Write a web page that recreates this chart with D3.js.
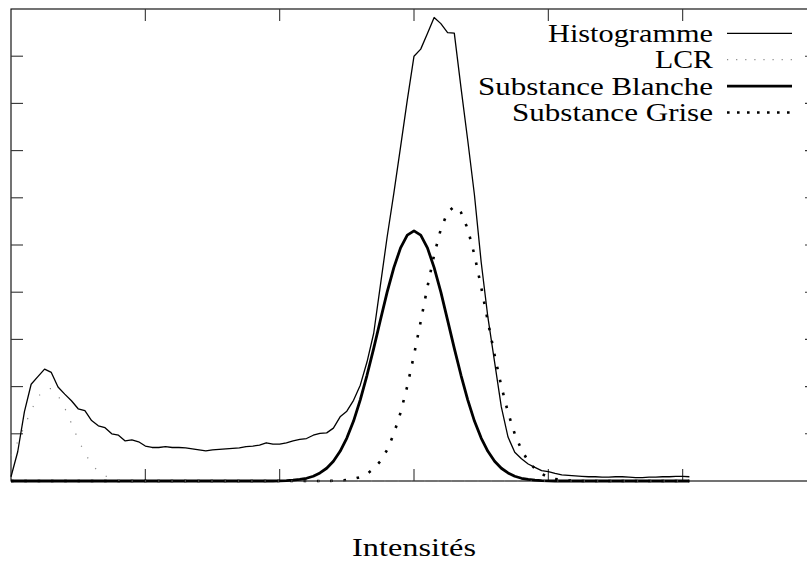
<!DOCTYPE html>
<html>
<head>
<meta charset="utf-8">
<script src="https://cdn.jsdelivr.net/npm/d3@7"></script>
<style>
html,body{margin:0;padding:0;background:#fff;}
svg{display:block;}
</style>
</head>
<body>
<svg id="chart" width="807" height="561"></svg>
<script>
// ---- data ----
const xTicks = [0, 20, 40, 60, 80, 100, 120];
const yTicks = [0, 1, 2, 3, 4, 5, 6, 7, 8, 9, 10];
const xLabel = "Intensités";
const seriesNames = ["Histogramme", "LCR", "Substance Blanche", "Substance Grise"];

const histogramme = [0.09,0.62,1.47,2.05,2.21,2.37,2.30,1.99,1.84,1.70,
  1.53,1.49,1.28,1.17,1.13,1.00,0.97,0.85,0.87,0.83,
  0.74,0.71,0.71,0.73,0.71,0.71,0.70,0.68,0.66,0.64,
  0.66,0.67,0.68,0.69,0.70,0.73,0.74,0.76,0.81,0.78,
  0.78,0.81,0.85,0.88,0.90,0.97,1.01,1.02,1.12,1.36,
  1.48,1.71,2.03,2.52,3.13,4.15,5.17,6.10,7.08,8.07,
  9.00,9.15,9.48,9.82,9.69,9.50,9.49,8.33,7.22,6.06,
  4.64,3.47,2.52,1.57,0.93,0.61,0.47,0.36,0.29,0.22,
  0.20,0.16,0.13,0.12,0.11,0.10,0.09,0.09,0.08,0.08,
  0.09,0.09,0.08,0.07,0.07,0.08,0.08,0.09,0.09,0.10,
  0.10,0.09];

const lcr = [0.54,0.83,1.16,1.49,1.78,1.94,1.96,1.81,1.55,1.22,
  0.88,0.59,0.36,0.20,0.11,0.05,0.02,0.01,0,0,
  0,0,0,0,0,0,0,0,0,0,0,0,0,0,0,0,0,0,0,0,
  0,0,0,0,0,0,0,0,0,0,0,0,0,0,0,0,0,0,0,0,
  0,0,0,0,0,0,0,0,0,0,0,0,0,0,0,0,0,0,0,0,
  0,0,0,0,0,0,0,0,0,0,0,0,0,0,0,0,0,0,0,0,
  0,0];

const blanche = [0,0,0,0,0,0,0,0,0,0,0,0,0,0,0,0,0,0,0,0,
  0,0,0,0,0,0,0,0,0,0,0,0,0,0,0,0,0,0,0,0,
  0.004,0.009,0.018,0.033,0.058,0.10,0.17,0.27,0.42,0.63,
  0.91,1.27,1.72,2.24,2.81,3.41,4.00,4.52,4.94,5.21,
  5.30,5.21,4.94,4.52,4.00,3.41,2.81,2.24,1.72,1.27,
  0.91,0.63,0.42,0.27,0.17,0.10,0.058,0.033,0.018,0.009,
  0.004,0,0,0,0,0,0,0,0,0,0,0,0,0,0,0,0,0,0,0,
  0,0];

const grise = [0,0,0,0,0,0,0,0,0,0,0,0,0,0,0,0,0,0,0,0,
  0,0,0,0,0,0,0,0,0,0,0,0,0,0,0,0,0,0,0,0,
  0,0,0,0,0,0,0,0,0.005,0.011,
  0.022,0.044,0.083,0.15,0.26,0.42,0.66,1.00,1.45,2.01,
  2.67,3.38,4.11,4.79,5.34,5.69,5.82,5.69,5.34,4.79,
  4.11,3.38,2.67,2.01,1.45,1.00,0.66,0.42,0.26,0.15,
  0.083,0.044,0.022,0.011,0.005,0,0,0,0,0,0,0,0,0,0,0,0,0,0,0,
  0,0];

// ---- layout ----
const FONT = "'Liberation Serif', LiberationSerif, 'DejaVu Serif', DejaVuSerif, 'Noto Serif', FreeSerif, Tinos, Times, 'Times New Roman', serif";
const svg = d3.select("#chart");
const L = 11, R = 817, T = 9, B = 481;
const x = d3.scaleLinear().domain([0, 120]).range([L, R]);
const y = d3.scaleLinear().domain([0, 10]).range([B, T]);

// frame
svg.append("rect").attr("x", L).attr("y", T).attr("width", R - L).attr("height", B - T)
  .attr("fill", "none").attr("stroke", "#000").attr("stroke-width", 1.1);

// ticks (inward, no labels)
const tickLen = 12;
const inner = (arr) => arr.slice(1, -1);
const g = svg.append("g").attr("stroke", "#333").attr("stroke-width", 1.1);
inner(xTicks).forEach(t => {
  g.append("line").attr("x1", x(t)).attr("x2", x(t)).attr("y1", T).attr("y2", T + tickLen);
  g.append("line").attr("x1", x(t)).attr("x2", x(t)).attr("y1", B).attr("y2", B - tickLen);
});
inner(yTicks).forEach(t => {
  g.append("line").attr("x1", L).attr("x2", L + tickLen).attr("y1", y(t)).attr("y2", y(t));
  g.append("line").attr("x1", R).attr("x2", R - tickLen).attr("y1", y(t)).attr("y2", y(t));
});

const line = d3.line().x((d, i) => x(i)).y(d => y(d));

const styles = [
  {data: histogramme, stroke: "#000", width: 1.3, dash: null, legendDash: null},
  {data: lcr, stroke: "#8a8a8a", width: 1.2, dash: "1.2,12.1", legendDash: "1.2,7.9"},
  {data: blanche, stroke: "#000", width: 2.8, dash: null, legendDash: null},
  {data: grise, stroke: "#000", width: 2.6, dash: "2.6,10.7", legendDash: "2.6,7.4"}
];

// draw order: blanche, grise, lcr, histogram
[2, 3, 1, 0].forEach(k => {
  const s = styles[k];
  svg.append("path").datum(s.data).attr("d", line)
    .attr("fill", "none").attr("stroke", s.stroke).attr("stroke-width", s.width)
    .attr("stroke-dasharray", s.dash).attr("stroke-linejoin", "round");
});

// legend
const legendRowY = d3.scaleLinear().domain([0, 3]).range([33.3, 112.5]);
const legendWidths = [165, 58, 235, 201];
seriesNames.forEach((name, i) => {
  const s = styles[i];
  const yy = legendRowY(i);
  svg.append("text").attr("x", 713).attr("y", yy + 8.5).attr("text-anchor", "end")
    .style("font-family", FONT).attr("font-size", 25).attr("fill", "#000")
    .attr("textLength", legendWidths[i]).attr("lengthAdjust", "spacingAndGlyphs")
    .text(name);
  svg.append("line").attr("x1", 727).attr("x2", 792).attr("y1", yy).attr("y2", yy)
    .attr("stroke", s.stroke).attr("stroke-width", s.width).attr("stroke-dasharray", s.legendDash);
});

// x axis label
svg.append("text").attr("x", 414).attr("y", 556).attr("text-anchor", "middle")
  .style("font-family", FONT).attr("font-size", 26).attr("fill", "#000")
  .attr("textLength", 124).attr("lengthAdjust", "spacingAndGlyphs")
  .text(xLabel);
</script>
</body>
</html>
